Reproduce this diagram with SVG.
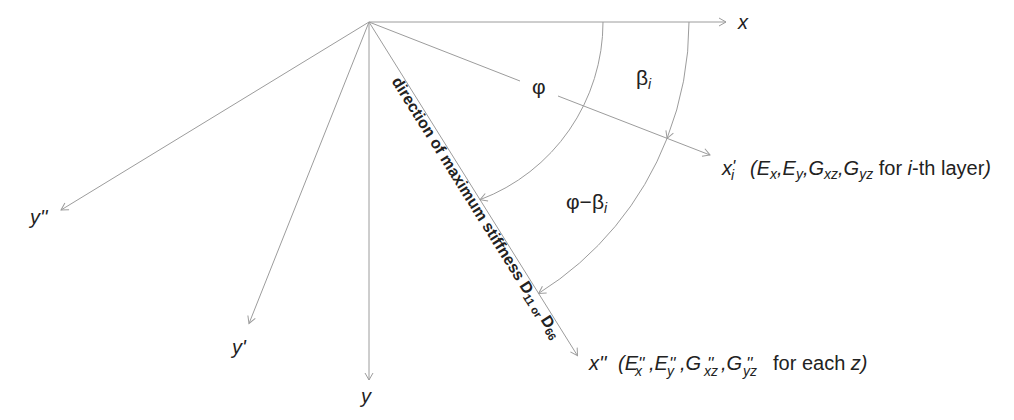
<svg xmlns="http://www.w3.org/2000/svg" width="1014" height="420" viewBox="0 0 1014 420">
<defs>
<marker id="ah" viewBox="-9 -6 11 12" markerWidth="11" markerHeight="12" refX="0" refY="0" orient="auto" markerUnits="userSpaceOnUse">
<path d="M-7,-4 L0,0 L-7,4" fill="none" stroke="#9c9c9c" stroke-width="1"/>
</marker>
<style>
.ln{stroke:#9c9c9c;stroke-width:1;fill:none}
.t{font-family:"Liberation Sans",Arial,sans-serif;fill:#222;font-size:20px}
.g{font-size:21px}
.it{font-style:italic}
.up{font-style:normal}
.sub{font-size:14px}
.pr{font-size:17px}
.b{font-weight:bold;font-size:16px}
.s{font-size:11px}
</style>
</defs>
<rect width="1014" height="420" fill="#fff"/>
<g id="connectors">
<path class="ln" d="M369,22 L726,22" marker-end="url(#ah)"/>
<path class="ln" d="M369,22 L369,380" marker-end="url(#ah)"/>
<path class="ln" d="M369,22 L249,323.5" marker-end="url(#ah)"/>
<path class="ln" d="M369,22 L61,210" marker-end="url(#ah)"/>
<path class="ln" d="M369,22 L577.5,355.7" marker-end="url(#ah)"/>
<path class="ln" d="M369,22 L520,81"/>
<path class="ln" d="M558,96 L710,155" marker-end="url(#ah)"/>
<path class="ln" d="M603,22 A190,190 0 0 1 480.1,199.7" marker-end="url(#ah)"/>
<path class="ln" d="M689,22 A320,320 0 0 1 667.1,138.3" marker-end="url(#ah)"/>
<path class="ln" d="M667.1,138.3 A320,320 0 0 1 538.6,293.4" marker-end="url(#ah)"/>
</g>
<g id="axis-x"><text class="t it" x="738" y="29">x</text></g>
<g id="axis-y"><text class="t it" x="361" y="403">y</text></g>
<g id="axis-y1"><text class="t it" x="232" y="354">y'</text></g>
<g id="axis-y2"><text class="t it" x="30" y="224">y''</text></g>
<g id="angle-phi"><text class="t g" x="532" y="94">φ</text></g>
<g id="angle-beta"><text class="t g" x="636" y="84.5">β<tspan class="sub it" dy="4">i</tspan></text></g>
<g id="angle-phi-beta"><text class="t g" x="566" y="208.5">φ−β<tspan class="sub it" dy="4">i</tspan></text></g>
<g id="axis-xi">
<text class="t it" x="722" y="175">x<tspan class="pr" x="732" y="172">'</tspan><tspan class="sub" x="731" y="180">i</tspan><tspan x="750" y="175">(E</tspan><tspan class="sub" dy="4">x</tspan><tspan dy="-4">,E</tspan><tspan class="sub" dy="4">y</tspan><tspan dy="-4">,G</tspan><tspan class="sub" dy="4">xz</tspan><tspan dy="-4">,G</tspan><tspan class="sub" dy="4">yz</tspan><tspan class="up" dy="-4"> for </tspan><tspan>i</tspan><tspan class="up">-th layer</tspan>)</text>
</g>
<g id="axis-x2">
<text class="t it" x="589" y="370">x''<tspan x="618" y="370">(E</tspan><tspan class="pr" x="638" y="369">''</tspan><tspan class="sub" x="635" y="376">x</tspan><tspan x="649" y="370">,E</tspan><tspan class="pr" x="669" y="369">''</tspan><tspan class="sub" x="667" y="376">y</tspan><tspan x="680" y="370">,G</tspan><tspan class="pr" x="707" y="369">''</tspan><tspan class="sub" x="704" y="376">xz</tspan><tspan x="721" y="370">,G</tspan><tspan class="pr" x="746" y="369">''</tspan><tspan class="sub" x="743" y="376">yz</tspan><tspan class="up" x="773" y="370">for each </tspan><tspan>z)</tspan></text>
</g>
<g id="max-stiffness">
<text class="t b" transform="translate(369,22) rotate(58)" x="62" y="12.5">direction of maximum stiffness D<tspan class="s" dy="3">11 or </tspan><tspan dy="-3">D</tspan><tspan class="s" dy="3">66</tspan></text>
</g>
</svg>
